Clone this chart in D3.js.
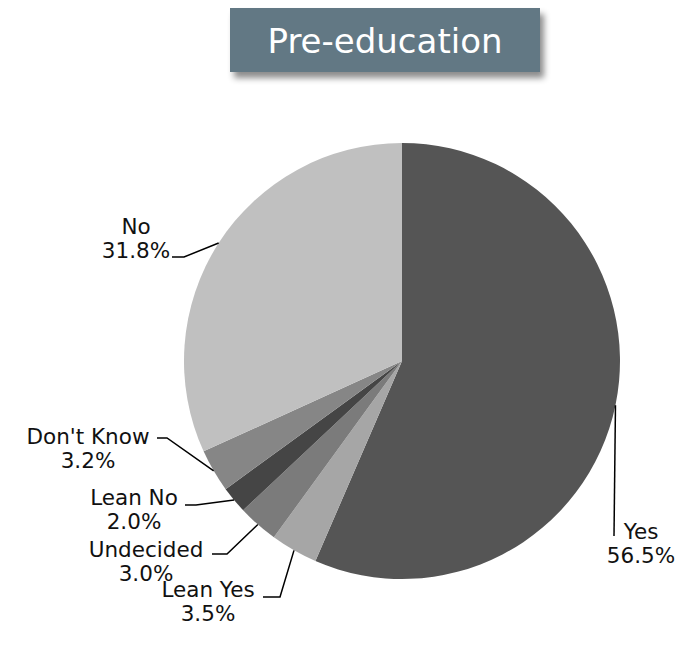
<!DOCTYPE html>
<html>
<head>
<meta charset="utf-8">
<script src="https://cdn.jsdelivr.net/npm/d3@7"></script>
<style>
  html, body { margin: 0; padding: 0; background: #ffffff; }
  svg { display: block; }
  text { font-family: "DejaVu Sans", sans-serif; }
</style>
</head>
<body>
<svg id="chart" width="688" height="654"></svg>
<script>
// Survey responses before the education session (percent)
const categories = ["Yes", "Lean Yes", "Undecided", "Lean No", "Don't Know", "No"];
const values = [56.5, 3.5, 3.0, 2.0, 3.2, 31.8];
const sliceColors = ["#555555", "#a6a6a6", "#7b7b7b", "#454545", "#868686", "#c0c0c0"];
const chartTitle = "Pre-education";

// Label placement per slice: text anchor point and the elbow of the leader line
const labelLayout = [
  { tx: 641, ty: 539, elbowX: 614, elbowY: 536, endX: 614 },
  { tx: 208, ty: 597, elbowX: 280, elbowY: 597, endX: 263 },
  { tx: 146, ty: 557, elbowX: 227, elbowY: 554, endX: 212 },
  { tx: 134, ty: 505, elbowX: 196, elbowY: 505, endX: 185 },
  { tx: 88,  ty: 444, elbowX: 167, elbowY: 438, endX: 157 },
  { tx: 136, ty: 234, elbowX: 184, elbowY: 257, endX: 172 }
];

const svg = d3.select("#chart");
const cx = 402, cy = 361, radius = 218;

// Title box with soft drop shadow
const defs = svg.append("defs");
const shadow = defs.append("filter").attr("id", "titleShadow")
  .attr("x", "-10%").attr("y", "-30%").attr("width", "130%").attr("height", "180%");
shadow.append("feDropShadow")
  .attr("dx", 4).attr("dy", 6).attr("stdDeviation", 3)
  .attr("flood-color", "#000000").attr("flood-opacity", 0.45);

svg.append("rect")
  .attr("x", 230).attr("y", 8).attr("width", 310).attr("height", 64)
  .attr("fill", "#627884")
  .attr("filter", "url(#titleShadow)");
svg.append("text")
  .attr("x", 385).attr("y", 53)
  .attr("text-anchor", "middle")
  .attr("fill", "#ffffff")
  .attr("font-size", 34)
  .text(chartTitle);

// Pie
const data = categories.map((c, i) => ({ name: c, value: values[i], color: sliceColors[i], layout: labelLayout[i] }));
const pie = d3.pie().value(d => d.value).sort(null);
const arcs = pie(data);
const arc = d3.arc().innerRadius(0).outerRadius(radius);

const g = svg.append("g").attr("transform", `translate(${cx},${cy})`);
g.selectAll("path.slice")
  .data(arcs)
  .join("path")
  .attr("class", "slice")
  .attr("d", arc)
  .attr("fill", d => d.data.color);

// Leader lines from the slice edge to the labels
svg.selectAll("polyline.leader")
  .data(arcs)
  .join("polyline")
  .attr("class", "leader")
  .attr("fill", "none")
  .attr("stroke", "#000000")
  .attr("stroke-width", 1.5)
  .attr("points", d => {
    const mid = (d.startAngle + d.endAngle) / 2;
    const px = cx + radius * Math.sin(mid);
    const py = cy - radius * Math.cos(mid);
    const L = d.data.layout;
    return [[px, py], [L.elbowX, L.elbowY], [L.endX, L.elbowY]].map(p => p.join(",")).join(" ");
  });

// Labels: category name and percentage on two lines
const labels = svg.selectAll("text.label")
  .data(arcs)
  .join("text")
  .attr("class", "label")
  .attr("font-size", 21.5)
  .attr("fill", "#111111")
  .attr("text-anchor", "middle");
labels.append("tspan")
  .attr("x", d => d.data.layout.tx)
  .attr("y", d => d.data.layout.ty)
  .text(d => d.data.name);
labels.append("tspan")
  .attr("x", d => d.data.layout.tx)
  .attr("dy", 24)
  .text(d => d3.format(".1f")(d.data.value) + "%");
</script>
</body>
</html>
